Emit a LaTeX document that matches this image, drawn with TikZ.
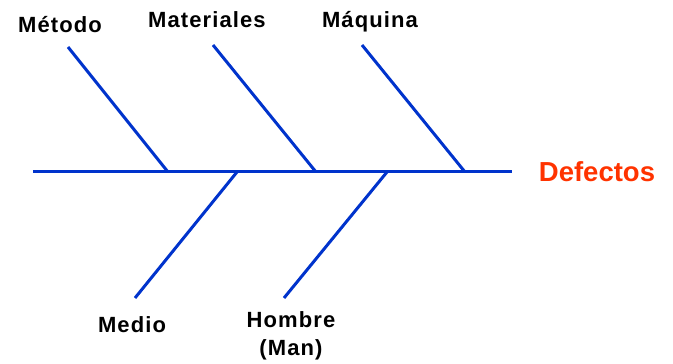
\documentclass[tikz,border=0pt]{standalone}
\usepackage{fontspec}
\setmainfont{Liberation Sans}
\newfontfamily\bonefont[LetterSpace=5]{Liberation Sans}
\definecolor{bonecol}{RGB}{0,51,204}
\definecolor{effectcol}{RGB}{255,51,0}
\begin{document}
\begin{tikzpicture}[
  x=1pt, y=1pt,
  bone/.style={draw=bonecol, line width=3pt},
  cause/.style={font=\bonefont\bfseries\fontsize{22}{28}\selectfont, inner sep=0pt, anchor=base, align=center},
  effect/.style={font=\bfseries\fontsize{27.5}{30}\selectfont, text=effectcol, inner sep=0pt, anchor=base}
]
\useasboundingbox (0,0) rectangle (673,364);
% spine
\coordinate (tail) at (33,192);
\coordinate (head) at (512,192);
\node[effect] (defectos) at (597,182) {Defectos};
\draw[bone] (tail) -- (head);
% upper bones
\node[cause] (metodo) at (60,331) {Método};
\node[cause] (materiales) at (207,336) {Materiales};
\node[cause] (maquina) at (370,336) {Máquina};
\coordinate (metodo-top) at (68,317);
\coordinate (metodo-end) at (168,192);
\coordinate (materiales-top) at (213,319);
\coordinate (materiales-end) at (316,192);
\coordinate (maquina-top) at (362,319);
\coordinate (maquina-end) at (465,192);
\draw[bone] (metodo-top) -- (metodo-end);
\draw[bone] (materiales-top) -- (materiales-end);
\draw[bone] (maquina-top) -- (maquina-end);
% lower bones
\node[cause] (medio) at (132,31) {Medio};
\node[cause, anchor=north] (hombre) at (291,53) {Hombre\\(Man)};
\coordinate (medio-bottom) at (135,66);
\coordinate (medio-end) at (237,192);
\coordinate (hombre-bottom) at (284,66);
\coordinate (hombre-end) at (387,192);
\draw[bone] (medio-bottom) -- (medio-end);
\draw[bone] (hombre-bottom) -- (hombre-end);
\end{tikzpicture}
\end{document}
